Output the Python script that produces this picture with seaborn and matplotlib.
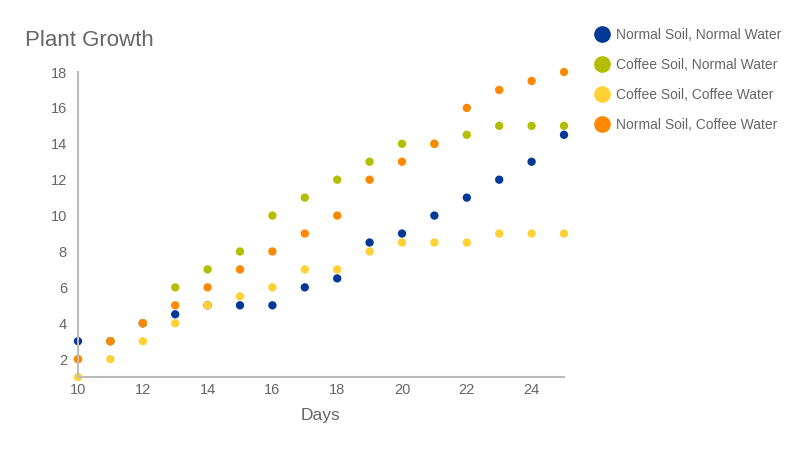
import matplotlib
matplotlib.use("Agg")
import matplotlib.pyplot as plt
import seaborn as sns
import pandas as pd
from matplotlib.lines import Line2D

days = list(range(10, 26))
normal_soil_normal_water = [3, 3, 4, 4.5, 5, 5, 5, 6, 6.5, 8.5, 9, 10, 11, 12, 13, 14.5]
coffee_soil_normal_water = [2, 3, 4, 6, 7, 8, 10, 11, 12, 13, 14, 14, 14.5, 15, 15, 15]
coffee_soil_coffee_water = [1, 2, 3, 4, 5, 5.5, 6, 7, 7, 8, 8.5, 8.5, 8.5, 9, 9, 9]
normal_soil_coffee_water = [2, 3, 4, 5, 6, 7, 8, 9, 10, 12, 13, 14, 16, 17, 17.5, 18]

series_names = ["Normal Soil, Normal Water", "Coffee Soil, Normal Water",
                "Coffee Soil, Coffee Water", "Normal Soil, Coffee Water"]
series_values = [normal_soil_normal_water, coffee_soil_normal_water,
                 coffee_soil_coffee_water, normal_soil_coffee_water]
colors = ["#023896", "#b3be00", "#ffd133", "#ff8800"]
x_ticks = [10, 12, 14, 16, 18, 20, 22, 24]
y_ticks = [2, 4, 6, 8, 10, 12, 14, 16, 18]

rows = []
for name, vals in zip(series_names, series_values):
    for d, v in zip(days, vals):
        rows.append({"Days": d, "Height": v, "Series": name})
df = pd.DataFrame(rows)

sns.set_theme(style="white")
plt.rcParams["font.family"] = ["Liberation Sans", "DejaVu Sans"]

fig = plt.figure(figsize=(8, 4.5), dpi=100)
ax = fig.add_axes([0.0975, 0.162, 0.6075, 0.678])

sns.scatterplot(data=df, x="Days", y="Height", hue="Series", hue_order=series_names,
                palette=colors, s=36, linewidth=0, ax=ax, legend=False)

ax.set_xlim(10, 25)
ax.set_ylim(1, 18)
ax.set_xticks(x_ticks)
ax.set_yticks(y_ticks)
ax.tick_params(axis="y", length=0, labelsize=10.5, labelcolor="#666666", pad=8)
ax.tick_params(axis="x", length=0, labelsize=10.5, labelcolor="#666666", pad=4)
for side in ["top", "right"]:
    ax.spines[side].set_visible(False)
for side in ["left", "bottom"]:
    ax.spines[side].set_color("#bbbbbb")
    ax.spines[side].set_linewidth(1.5)
ax.set_xlabel("Days", fontsize=12.5, color="#666666", labelpad=8)
ax.set_ylabel("")
for p in ax.collections:
    p.set_clip_on(False)

fig.text(0.031, 0.9111, "Plant Growth", fontsize=16, color="#666666", va="center", ha="left")

handles = [Line2D([0], [0], marker="o", linestyle="", markersize=12,
                  markerfacecolor=c, markeredgewidth=0) for c in colors]
leg = fig.legend(handles, series_names, loc="upper left", bbox_to_anchor=(0.733, 0.951),
                 frameon=False, fontsize=10, handletextpad=0.35, labelspacing=1.16,
                 handlelength=1.4, borderaxespad=0)
for t in leg.get_texts():
    t.set_color("#666666")

fig.savefig("out.png", dpi=100)
